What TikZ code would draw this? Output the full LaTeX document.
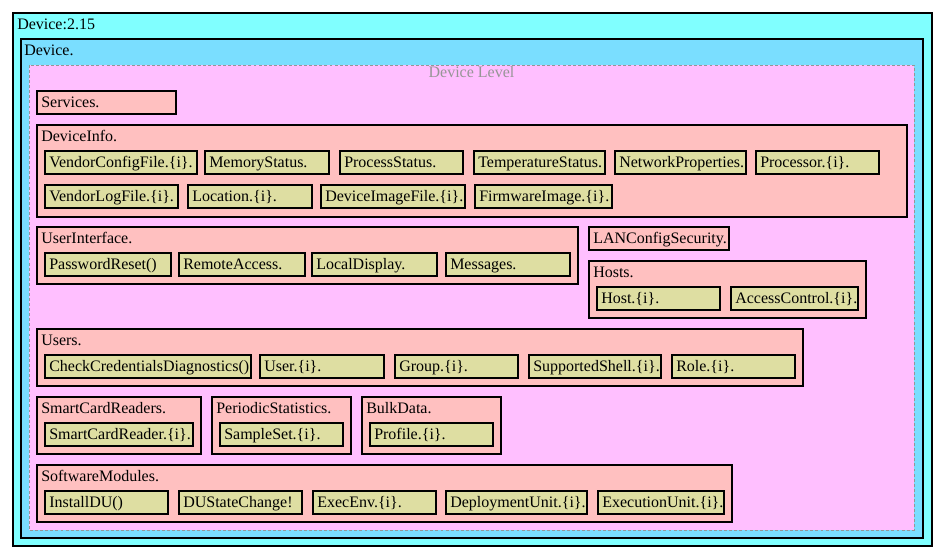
\documentclass[tikz,border=0pt]{standalone}
\usepackage{fontspec}
\setmainfont{Liberation Serif}
\definecolor{cOuter}{RGB}{128,255,255}
\definecolor{cDev}{RGB}{122,222,255}
\definecolor{cLevel}{RGB}{255,191,255}
\definecolor{cGroup}{RGB}{255,192,192}
\definecolor{cItem}{RGB}{222,222,162}
\definecolor{cGrayTxt}{RGB}{150,150,150}
\tikzset{
  outerbox/.style={draw=black, line width=0.9pt, fill=cOuter},
  devbox/.style={draw=black, line width=0.9pt, fill=cDev},
  levelbox/.style={draw=cGrayTxt, line width=0.6pt, dashed, dash pattern=on 2.2pt off 1.6pt, fill=cLevel},
  groupbox/.style={draw=black, line width=0.9pt, fill=cGroup},
  itembox/.style={draw=black, line width=0.9pt, fill=cItem},
  lbl/.style={anchor=base west, inner sep=0pt, font=\fontsize{12}{14}\selectfont},
  levellbl/.style={anchor=base, inner sep=0pt, text=cGrayTxt, font=\fontsize{12}{14}\selectfont},
}
\newcommand\bx[7]{%
  \draw[#6] (#2,#3) rectangle (#4,#5);
  \node[lbl] (#1) at ({#2+4},{#3+17}) {#7};
}
\begin{document}
\begin{tikzpicture}[x=0.75pt,y=-0.75pt]
\useasboundingbox (0,0) rectangle (940,552);
% outer containers
\draw[outerbox] (13,13) rectangle (932,546);
\node[lbl] (outer) at (17,30) {Device:2.15};
\draw[devbox] (21,39) rectangle (923,538);
\node[lbl] (device) at (24,56) {Device.};
\draw[levelbox] (29,65) rectangle (914,530);
\node[levellbl] (level) at (471.5,77.5) {Device Level};
% Services
\bx{services}{37}{91}{176}{114}{groupbox}{Services.}
% DeviceInfo
\bx{deviceinfo}{37}{125}{907}{217}{groupbox}{DeviceInfo.}
\bx{vcf}{45}{151}{197}{174}{itembox}{VendorConfigFile.\{i\}.}
\bx{mem}{205}{151}{329}{174}{itembox}{MemoryStatus.}
\bx{proc}{340}{151}{463}{174}{itembox}{ProcessStatus.}
\bx{temp}{474}{151}{605}{174}{itembox}{TemperatureStatus.}
\bx{net}{615}{151}{746}{174}{itembox}{NetworkProperties.}
\bx{processor}{756}{151}{879}{174}{itembox}{Processor.\{i\}.}
\bx{vlf}{45}{185}{178}{208}{itembox}{VendorLogFile.\{i\}.}
\bx{loc}{188}{185}{312}{208}{itembox}{Location.\{i\}.}
\bx{dif}{321}{185}{465}{208}{itembox}{DeviceImageFile.\{i\}.}
\bx{fw}{475}{185}{612}{208}{itembox}{FirmwareImage.\{i\}.}
% UserInterface
\bx{ui}{37}{227}{578}{284}{groupbox}{UserInterface.}
\bx{pr}{45}{253}{171}{276}{itembox}{PasswordReset()}
\bx{ra}{179}{253}{305}{276}{itembox}{RemoteAccess.}
\bx{ld}{312}{253}{437}{276}{itembox}{LocalDisplay.}
\bx{msg}{446}{253}{570}{276}{itembox}{Messages.}
% LANConfigSecurity
\bx{lan}{589}{227}{729}{250}{groupbox}{LANConfigSecurity.}
% Hosts
\bx{hosts}{589}{261}{866}{318}{groupbox}{Hosts.}
\bx{host}{597}{287}{720}{310}{itembox}{Host.\{i\}.}
\bx{ac}{731}{287}{858}{310}{itembox}{AccessControl.\{i\}.}
% Users
\bx{users}{37}{329}{803}{386}{groupbox}{Users.}
\bx{ccd}{45}{355}{251}{378}{itembox}{CheckCredentialsDiagnostics()}
\bx{user}{260}{355}{384}{378}{itembox}{User.\{i\}.}
\bx{group}{395}{355}{518}{378}{itembox}{Group.\{i\}.}
\bx{shell}{529}{355}{661}{378}{itembox}{SupportedShell.\{i\}.}
\bx{role}{672}{355}{795}{378}{itembox}{Role.\{i\}.}
% SmartCardReaders
\bx{scrs}{37}{397}{201}{454}{groupbox}{SmartCardReaders.}
\bx{scr}{45}{423}{193}{446}{itembox}{SmartCardReader.\{i\}.}
% PeriodicStatistics
\bx{ps}{212}{397}{351}{454}{groupbox}{PeriodicStatistics.}
\bx{ss}{220}{423}{343}{446}{itembox}{SampleSet.\{i\}.}
% BulkData
\bx{bd}{362}{397}{501}{454}{groupbox}{BulkData.}
\bx{prof}{370}{423}{493}{446}{itembox}{Profile.\{i\}.}
% SoftwareModules
\bx{sm}{37}{465}{732}{522}{groupbox}{SoftwareModules.}
\bx{idu}{45}{491}{168}{514}{itembox}{InstallDU()}
\bx{dusc}{179}{491}{302}{514}{itembox}{DUStateChange!}
\bx{ee}{313}{491}{436}{514}{itembox}{ExecEnv.\{i\}.}
\bx{du}{446}{491}{587}{514}{itembox}{DeploymentUnit.\{i\}.}
\bx{eu}{598}{491}{724}{514}{itembox}{ExecutionUnit.\{i\}.}
\end{tikzpicture}
\end{document}
